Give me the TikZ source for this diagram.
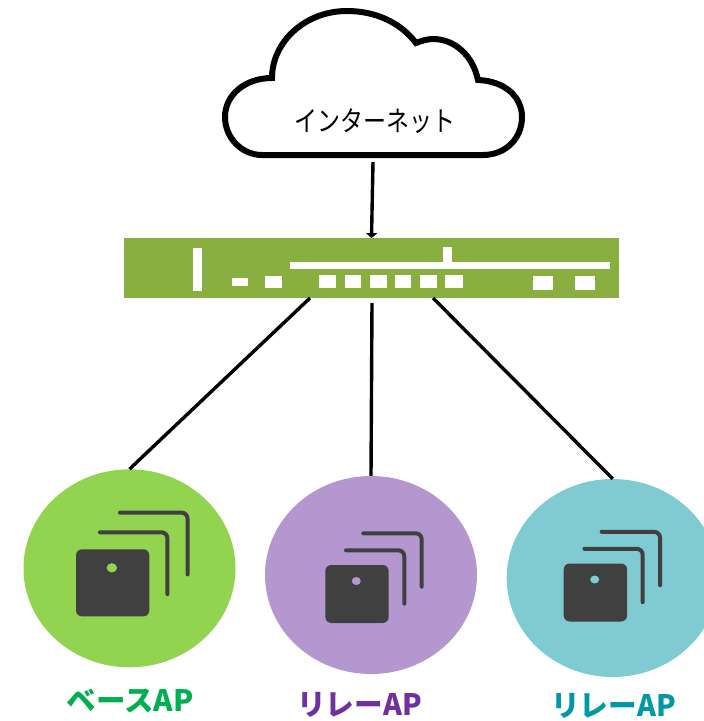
\documentclass[tikz,border=0pt]{standalone}
\usepackage{fontspec}
\usepackage{tikz}
\usetikzlibrary{shapes.geometric,arrows.meta}
\setmainfont{Noto Sans CJK JP}
\definecolor{swgreen}{HTML}{88AF40}
\definecolor{apgreen}{HTML}{92D34F}
\definecolor{appurple}{HTML}{B597D0}
\definecolor{apteal}{HTML}{80CBD1}
\definecolor{icondark}{HTML}{404040}
\definecolor{txtgreen}{HTML}{00B050}
\definecolor{txtpurple}{HTML}{7030A0}
\definecolor{txtteal}{HTML}{0097A7}
% x y of the square's corner, x scale, y scale, colour of the dot
\newcommand{\apicon}[5]{
  \begin{scope}[shift={(#1,#2)}, xscale=#3, yscale=#4]
    \fill [icondark, rounded corners=6pt] (0,0) rectangle (63.4,58);
    \fill [#5] (31,16) ellipse (4.5 and 4);
    \draw [wave] (20.7,-14.7) -- (79,-14.7) -- (79,38.7);
    \draw [wave] (38,-31.7) -- (96.4,-31.7) -- (96.4,21.7);
  \end{scope}
}
\begin{document}
\begin{tikzpicture}
[
  x = 1pt, y = -1pt,
  link/.style     = {draw, line width=3.4pt},
  wave/.style     = {draw=icondark, line width=4pt, line cap=round, rounded corners=6pt},
  port/.style     = {fill=white},
  apnode/.style   = {shape=ellipse, minimum width=212pt, minimum height=198pt, inner sep=0pt},
  aplabel/.style  = {font=\fontsize{29.5}{31}\selectfont\bfseries, inner sep=0pt},
  relaylabel/.style = {aplabel, xscale=0.97, transform shape}
]
\useasboundingbox (0,0) rectangle (704,721);

\draw [line width=6pt, fill=white] (262,155) -- (483,155)
  .. controls (506,155) and (522,138) .. (522,117)
  .. controls (522,97) and (505,81) .. (478,80)
  .. controls (473,56) and (455,39) .. (433,39)
  .. controls (427,39) and (421,41) .. (416,43)
  .. controls (400,22) and (375,11) .. (347,11)
  .. controls (305,11) and (272,42) .. (272,78)
  .. controls (245,78) and (225,95) .. (225,117)
  .. controls (225,138) and (242,155) .. (262,155) -- cycle;
\node [font=\fontsize{28}{30}\selectfont, inner sep=0pt, xscale=0.82, transform shape] (inet) at (375,121) {インターネット};
\coordinate (inetb) at (373,162);

\node [shape=rectangle, fill=swgreen, minimum width=495pt, minimum height=59.4pt, inner sep=0pt] (switch) at (371.5,268) {};
\fill [port] (193,248) rectangle (201.7,290.7);
\fill [port] (232.3,277.7) rectangle (247.7,286);
\fill [port] (264.7,275.7) rectangle (281.7,287.7);
\foreach \xa/\xb in {319/336, 345/361, 370/386.7, 395/411, 420/437, 445.3/463}
  \fill [port] (\xa,275.3) rectangle (\xb,287.7);
\fill [port] (290.3,262) rectangle (610,269);
\fill [port] (443,247) rectangle (452,262);
\fill [port] (533,275.7) rectangle (553,290);
\fill [port] (575,275.7) rectangle (595,290);

\node [apnode, fill=apgreen]  (base)   at (129.5,568.3) {};
\node [apnode, fill=appurple] (relaya) at (371,575) {};
\node [apnode, fill=apteal]   (relayb) at (612.7,578) {};

\apicon{76}{549.3}{1.157}{1.157}{apgreen}
\apicon{325.3}{565}{1}{1}{appurple}
\apicon{563.7}{563.5}{1}{1}{apteal}

\coordinate (swa) at (310,298);
\coordinate (swb) at (372,303);
\coordinate (swc) at (433,298);
\draw [link, -{Triangle[length=5pt, width=11pt]}] (inetb) -- (switch.north);
\draw [link] (swa) -- (base.north);
\draw [link] (swb) -- (relaya.north);
\draw [link] (swc) -- (relayb.north);

\node [aplabel, text=txtgreen]  (baselabel)   at (130,701) {ベースAP};
\node [relaylabel, text=txtpurple] (relayalabel) at (359.5,705) {リレーAP};
\node [relaylabel, text=txtteal]   (relayblabel) at (613.5,706) {リレーAP};
\end{tikzpicture}
\end{document}
